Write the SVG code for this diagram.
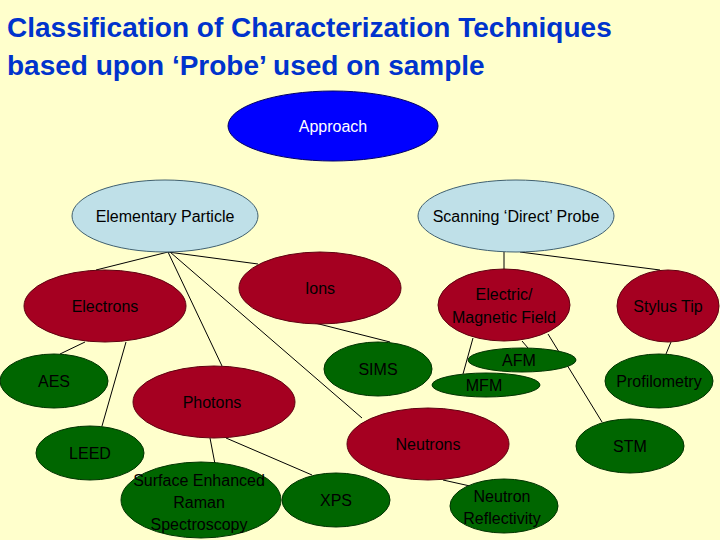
<svg xmlns="http://www.w3.org/2000/svg" width="720" height="540" viewBox="0 0 720 540">
<style>
text{font-family:"Liberation Sans",Arial,sans-serif;font-size:16px;text-anchor:middle;fill:#000}
.t{font-size:28px;font-weight:bold;fill:#0033CC;text-anchor:start}
.r{fill:#A50021;stroke:#600010;stroke-width:1}
.g{fill:#006600;stroke:#003300;stroke-width:1}
.l{fill:#BFE0E8;stroke:#406070;stroke-width:1}
.c line{stroke:#000;stroke-width:1}
</style>
<rect width="720" height="540" fill="#FFFFCC"/>
<text class="t" x="7" y="37">Classification of Characterization Techniques</text>
<text class="t" x="7" y="75">based upon ‘Probe’ used on sample</text>
<g class="c">
<line x1="168" y1="252" x2="96" y2="270"/>
<line x1="168" y1="252" x2="222" y2="366"/>
<line x1="168" y1="252" x2="258" y2="264"/>
<line x1="170" y1="252" x2="362" y2="418"/>
<line x1="315" y1="323" x2="390" y2="342"/>
<line x1="504" y1="252" x2="504" y2="270"/>
<line x1="520" y1="252" x2="660" y2="270"/>
<line x1="473" y1="338" x2="463" y2="374"/>
<line x1="522" y1="341" x2="528" y2="348"/>
<line x1="548" y1="334" x2="602" y2="422"/>
<line x1="671" y1="342" x2="666" y2="354"/>
<line x1="85" y1="342" x2="60" y2="354"/>
<line x1="126" y1="342" x2="102" y2="426"/>
<line x1="210" y1="438" x2="215" y2="464"/>
<line x1="226" y1="438" x2="312" y2="475"/>
<line x1="443" y1="480" x2="470" y2="486"/>
</g>
<g id="approach"><ellipse cx="333" cy="126" rx="105" ry="35" fill="#0000FF" stroke="#000066"/><text x="333" y="132" style="fill:#fff">Approach</text></g>
<g id="elementary"><ellipse class="l" cx="165" cy="216" rx="93" ry="36"/><text x="165" y="222">Elementary Particle</text></g>
<g id="scanning"><ellipse class="l" cx="516" cy="216" rx="98" ry="36"/><text x="516" y="222">Scanning ‘Direct’ Probe</text></g>
<g id="electrons"><ellipse class="r" cx="105" cy="306" rx="81" ry="36"/><text x="105" y="312">Electrons</text></g>
<g id="ions"><ellipse class="r" cx="320" cy="288" rx="81" ry="36"/><text x="320" y="294">Ions</text></g>
<g id="emfield"><ellipse class="r" cx="504" cy="305" rx="66" ry="36"/><text x="504" y="300">Electric/</text><text x="504" y="323">Magnetic Field</text></g>
<g id="stylus"><ellipse class="r" cx="668" cy="306" rx="51" ry="36"/><text x="668" y="312">Stylus Tip</text></g>
<g id="aes"><ellipse class="g" cx="54" cy="381" rx="54" ry="27"/><text x="54" y="387">AES</text></g>
<g id="photons"><ellipse class="r" cx="214" cy="402" rx="81" ry="36"/><text x="212" y="408">Photons</text></g>
<g id="sims"><ellipse class="g" cx="378" cy="369" rx="54" ry="27"/><text x="378" y="375">SIMS</text></g>
<g id="afm"><ellipse class="g" cx="522" cy="360" rx="54" ry="12"/><text x="519" y="366">AFM</text></g>
<g id="mfm"><ellipse class="g" cx="486" cy="385" rx="54" ry="12"/><text x="484" y="391">MFM</text></g>
<g id="profilometry"><ellipse class="g" cx="659" cy="381" rx="54" ry="27"/><text x="659" y="387">Profilometry</text></g>
<g id="neutrons"><ellipse class="r" cx="428" cy="444" rx="81" ry="36"/><text x="428" y="450">Neutrons</text></g>
<g id="leed"><ellipse class="g" cx="90" cy="453" rx="54" ry="27"/><text x="90" y="459">LEED</text></g>
<g id="stm"><ellipse class="g" cx="630" cy="446" rx="54" ry="27"/><text x="630" y="452">STM</text></g>
<g id="sers"><ellipse class="g" cx="201" cy="500" rx="80" ry="38"/><text x="199" y="486">Surface Enhanced</text><text x="199" y="508">Raman</text><text x="199" y="530">Spectroscopy</text></g>
<g id="xps"><ellipse class="g" cx="336" cy="500" rx="54" ry="27"/><text x="336" y="506">XPS</text></g>
<g id="nr"><ellipse class="g" cx="504" cy="506" rx="54" ry="27"/><text x="502" y="502">Neutron</text><text x="502" y="524">Reflectivity</text></g>
</svg>
